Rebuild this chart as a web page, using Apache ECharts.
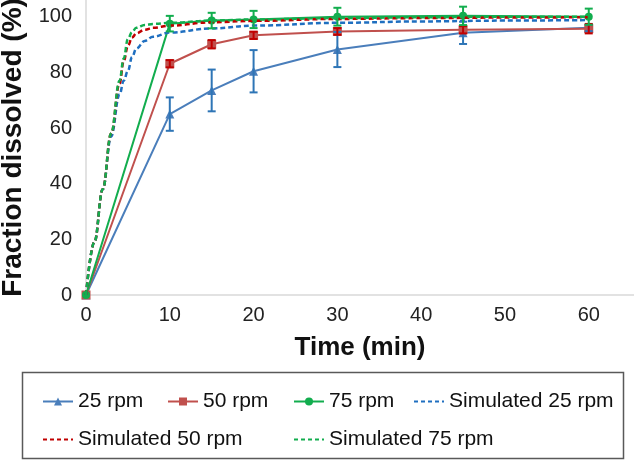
<!DOCTYPE html>
<html>
<head>
<meta charset="utf-8">
<script src="https://cdn.jsdelivr.net/npm/echarts@6/dist/echarts.min.js"></script>
<style>
  html, body { margin: 0; padding: 0; background: #fff; }
  #chart { width: 634px; height: 460px; }
</style>
</head>
<body>
<div id="chart"></div>
<script>
// measured points (min, %)
var timePoints = [0, 10, 15, 20, 30, 45, 60];
var rpm25 = [0, 65, 73.5, 80.4, 88.2, 94.2, 96];
var rpm25Err = [0, 6, 7.5, 7.6, 6.3, 4, 1.2];
var rpm50 = [0, 83.1, 90.1, 93.3, 94.7, 95.3, 95.7];
var rpm50Err = [0, 1.3, 1.5, 1.3, 1.2, 1.3, 1.7];
var rpm75 = [0, 97.5, 98.6, 99, 100, 100.3, 100];
var rpm75Err = [0, 2.8, 2.8, 3.1, 3.2, 3.3, 2.9];

// simulated curves
var simTime = [0, 1, 2, 3, 4, 4.5, 5, 5.5, 6, 7, 8, 10, 15, 20, 30, 40, 50, 60];
var sim25 = [0, 19, 38, 57, 72, 77, 80.5, 85.5, 88.5, 91.3, 92.8, 94.3, 95.8, 96.8, 97.8, 98.3, 98.6, 98.8];
var sim50 = [0, 19, 38, 58, 76, 84, 89.5, 92.5, 94, 95.3, 96, 96.8, 98, 98.5, 99.2, 99.5, 99.7, 99.8];
var sim75 = [0, 19, 38, 58, 77, 85, 92, 94.5, 96, 97, 97.4, 97.8, 98.6, 99, 99.5, 99.8, 100, 100];

var xTicks = [0, 10, 20, 30, 40, 50, 60];
var yTicks = [0, 20, 40, 60, 80, 100];

var FONT = 'Liberation Sans, Arial, sans-serif';

function pairs(xs, ys) {
  return xs.map(function (x, i) { return [x, ys[i]]; });
}
function errPairs(xs, ys, es) {
  var out = [];
  xs.forEach(function (x, i) {
    if (es[i] > 0) out.push([x, ys[i] - es[i], ys[i] + es[i]]);
  });
  return out;
}
function errSeries(data, color) {
  return {
    type: 'custom',
    z: 5,
    silent: true,
    data: data,
    renderItem: function (params, api) {
      var lo = api.coord([api.value(0), api.value(1)]);
      var hi = api.coord([api.value(0), api.value(2)]);
      var w = 4;
      var st = { stroke: color, lineWidth: 2 };
      return {
        type: 'group',
        children: [
          { type: 'line', shape: { x1: lo[0], y1: lo[1], x2: hi[0], y2: hi[1] }, style: st },
          { type: 'line', shape: { x1: lo[0] - w, y1: lo[1], x2: lo[0] + w, y2: lo[1] }, style: st },
          { type: 'line', shape: { x1: hi[0] - w, y1: hi[1], x2: hi[0] + w, y2: hi[1] }, style: st }
        ]
      };
    }
  };
}
function legendAt(name, left, top, dashed) {
  var item = { name: name };
  if (dashed) {
    // hide the symbol, keep only the dashed line
    item.itemStyle = { opacity: 0 };
    item.lineStyle = { width: 2, type: [4, 3] };
  }
  return {
    data: [item],
    left: left,
    top: top,
    itemWidth: 30,
    itemHeight: 10,
    selectedMode: false,
    textStyle: { fontSize: 21, color: '#111', fontFamily: FONT }
  };
}

var myChart = echarts.init(document.getElementById('chart'));

var option = {
  backgroundColor: '#fff',
  animation: false,
  grid: { left: 86, right: 0, top: 0, bottom: 165, outerBoundsMode: 'none', containLabel: false },
  legend: [
    legendAt('25 rpm', 37, 386),
    legendAt('50 rpm', 162, 386),
    legendAt('75 rpm', 288, 386),
    legendAt('Simulated 25 rpm', 408, 386, true),
    legendAt('Simulated 50 rpm', 37, 424, true),
    legendAt('Simulated 75 rpm', 288, 424, true)
  ],
  graphic: [{
    type: 'rect',
    shape: { x: 22.5, y: 372.5, width: 601, height: 86 },
    style: { fill: 'none', stroke: '#595959', lineWidth: 1.5 }
  }],
  xAxis: {
    type: 'value',
    min: 0,
    max: 65.4,
    interval: 10,
    name: 'Time (min)',
    nameLocation: 'middle',
    nameGap: 40,
    nameTextStyle: { fontSize: 26, fontWeight: 'bold', color: '#111', fontFamily: FONT },
    axisLine: { lineStyle: { color: '#d9d9d9', width: 1.5 } },
    axisTick: { show: false },
    splitLine: { show: false },
    axisLabel: {
      fontSize: 20, color: '#222', fontFamily: FONT, margin: 10,
      showMaxLabel: false,
      formatter: function (v) { return xTicks.indexOf(v) >= 0 ? String(v) : ''; }
    }
  },
  yAxis: {
    type: 'value',
    min: 0,
    max: 106,
    interval: 20,
    name: 'Fraction dissolved (%)',
    nameLocation: 'middle',
    nameGap: 57,
    nameTextStyle: { fontSize: 28, fontWeight: 'bold', color: '#111', fontFamily: FONT },
    axisLine: { show: true, lineStyle: { color: '#d9d9d9', width: 1.5 } },
    axisTick: { show: false },
    splitLine: { show: false },
    axisLabel: {
      fontSize: 20, color: '#222', fontFamily: FONT, margin: 14,
      showMaxLabel: false,
      formatter: function (v) { return yTicks.indexOf(v) >= 0 ? String(v) : ''; }
    }
  },
  series: [
    {
      name: '25 rpm', type: 'line', data: pairs(timePoints, rpm25),
      symbol: 'triangle', symbolSize: 9,
      itemStyle: { color: '#4A7EBB' },
      lineStyle: { color: '#4A7EBB', width: 2 }, z: 3
    },
    {
      name: '50 rpm', type: 'line', data: pairs(timePoints, rpm50),
      symbol: 'rect', symbolSize: 9,
      itemStyle: { color: '#C0504D' },
      lineStyle: { color: '#C0504D', width: 2 }, z: 3
    },
    {
      name: '75 rpm', type: 'line', data: pairs(timePoints, rpm75),
      symbol: 'circle', symbolSize: 8,
      itemStyle: { color: '#12AD4E' },
      lineStyle: { color: '#12AD4E', width: 2 }, z: 3
    },
    {
      name: 'Simulated 25 rpm', type: 'line', data: pairs(simTime, sim25),
      symbol: 'none', smooth: 0.4, smoothMonotone: 'x',
      itemStyle: { color: '#1F6FC0' },
      lineStyle: { color: '#1F6FC0', width: 2.5, type: [5, 3] }, z: 4
    },
    {
      name: 'Simulated 50 rpm', type: 'line', data: pairs(simTime, sim50),
      symbol: 'none', smooth: 0.4, smoothMonotone: 'x',
      itemStyle: { color: '#C00000' },
      lineStyle: { color: '#C00000', width: 2.5, type: [5, 3] }, z: 4
    },
    {
      name: 'Simulated 75 rpm', type: 'line', data: pairs(simTime, sim75),
      symbol: 'none', smooth: 0.4, smoothMonotone: 'x',
      itemStyle: { color: '#12AD4E' },
      lineStyle: { color: '#12AD4E', width: 2.5, type: [5, 3] }, z: 4
    },
    errSeries(errPairs(timePoints, rpm25, rpm25Err), '#2E75B6'),
    errSeries(errPairs(timePoints, rpm50, rpm50Err), '#C00000'),
    errSeries(errPairs(timePoints, rpm75, rpm75Err), '#12AD4E')
  ]
};

myChart.setOption(option, true);
</script>
</body>
</html>
